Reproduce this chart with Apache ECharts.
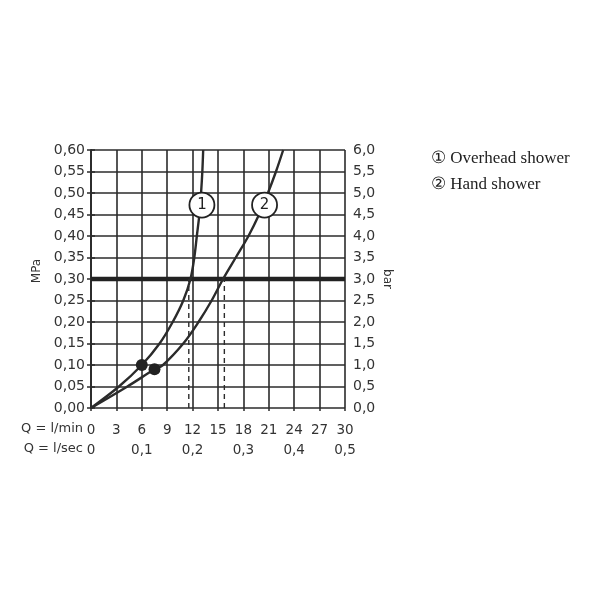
<!DOCTYPE html>
<html><head><meta charset="utf-8">
<script src="https://cdn.jsdelivr.net/npm/echarts@6/dist/echarts.min.js"></script>
<style>html,body{margin:0;padding:0;background:#fff}#c{width:600px;height:600px}</style>
</head><body><div id="c"></div>
<script>
// Data (x in l/min, y in MPa)
const overheadShower = [[0,0],[3.3,0.05],[6,0.10],[8.1,0.15],[9.65,0.20],[10.9,0.25],[11.75,0.30],[12.2,0.35],[12.5,0.40],[12.8,0.45],[13.0,0.50],[13.15,0.55],[13.25,0.60]];
const handShower = [[0,0],[4.3,0.05],[7.5,0.09],[8.5,0.10],[10.9,0.15],[12.7,0.20],[14.25,0.25],[15.6,0.30],[17.1,0.35],[18.6,0.40],[19.85,0.45],[20.9,0.50],[21.85,0.55],[22.7,0.60]];
const dots = [[6,0.10],[7.5,0.09]];
const curveTags = [[13.1,0.472,'1'],[20.5,0.472,'2']];
const refPressure = 0.30;
const flowAtRef = [11.55,15.75];
const legendNames = ['\u2460 Overhead shower','\u2461 Hand shower'];
const xRowNames = ['Q = l/min','Q = l/sec'];

const dark = '#2b2b2b';
const font = 'DejaVu Sans';

const chart = echarts.init(document.getElementById('c'));
const dashedData = [];
flowAtRef.forEach(x=>{dashedData.push([x,0],[x,refPressure],[null,null]);});

chart.setOption({
  animation:false,
  backgroundColor:'#fff',
  grid:{left:91,right:255,top:150,bottom:192},
  legend:{show:true,orient:'vertical',left:421,top:145,icon:'none',itemGap:9,itemWidth:0,
    textStyle:{fontFamily:'Liberation Serif',fontSize:17,color:'#222'},
    data:legendNames, selectedMode:false},
  graphic:[
    {type:'text',right:600-83,top:422,style:{text:xRowNames[0],font:'13px "DejaVu Sans"',fill:'#333',textAlign:'right'}},
    {type:'text',right:600-83,top:442,style:{text:xRowNames[1],font:'13px "DejaVu Sans"',fill:'#333',textAlign:'right'}}
  ],
  xAxis:[{
    type:'value',min:0,max:30,interval:3,position:'bottom',
    axisLine:{show:false},
    axisTick:{show:true,length:3,lineStyle:{color:dark,width:1.5}},
    splitLine:{show:true,lineStyle:{color:dark,width:1.6}},
    axisLabel:{margin:15,fontFamily:font,fontSize:13.5,color:'#333',formatter:v=>String(v)}
  },{
    type:'value',min:0,max:0.5,interval:0.1,position:'bottom',offset:20,
    axisLine:{show:false},axisTick:{show:false},splitLine:{show:false},
    axisLabel:{margin:15,fontFamily:font,fontSize:13.5,color:'#333',formatter:v=>v===0?'0':v.toFixed(1).replace('.',',')}
  }],
  yAxis:[{
    type:'value',min:0,max:0.6,interval:0.05,position:'left',
    axisLine:{show:true,lineStyle:{color:dark,width:1.6}},
    axisTick:{show:true,length:4,lineStyle:{color:dark,width:1.5}},
    splitLine:{show:true,lineStyle:{color:dark,width:1.6}},
    axisLabel:{margin:6,fontFamily:font,fontSize:14,color:'#333',formatter:v=>v.toFixed(2).replace('.',',')},
    name:'MPa',nameLocation:'middle',nameGap:48,nameRotate:90,
    nameTextStyle:{fontFamily:font,fontSize:12,color:'#333',padding:[0,0,0,16]}
  },{
    type:'value',min:0,max:6,interval:0.5,position:'right',
    axisLine:{show:true,lineStyle:{color:dark,width:1.6}},
    axisTick:{show:true,length:4,lineStyle:{color:dark,width:1.5}},
    splitLine:{show:false},
    axisLabel:{margin:8,fontFamily:font,fontSize:14,color:'#333',formatter:v=>v.toFixed(1).replace('.',',')},
    name:'bar',nameLocation:'middle',nameGap:36,nameRotate:-90,
    nameTextStyle:{fontFamily:font,fontSize:12,color:'#333'}
  }],
  series:[
    {type:'line',name:'refline',data:[[0,refPressure],[30,refPressure]],symbol:'none',
      lineStyle:{color:'#222',width:4.5},z:3},
    {type:'line',name:'dashed',data:dashedData,symbol:'none',connectNulls:false,
      lineStyle:{color:dark,width:1.4,type:[5,4]},z:3},
    {type:'line',name:legendNames[0],data:overheadShower,smooth:0.35,symbol:'none',
      lineStyle:{color:dark,width:2.4},z:4},
    {type:'line',name:legendNames[1],data:handShower,smooth:0.35,symbol:'none',
      lineStyle:{color:dark,width:2.4},z:4},
    {type:'scatter',name:'dots',data:dots,symbol:'circle',symbolSize:12,
      itemStyle:{color:'#222',opacity:1},z:5},
    {type:'scatter',name:'tags',data:curveTags,symbol:'circle',symbolSize:25,
      itemStyle:{color:'#fff',borderColor:'#222',borderWidth:1.8,opacity:1},
      label:{show:true,position:'inside',formatter:p=>p.data[2],fontFamily:font,fontSize:15,color:'#222'},z:6}
  ]
});
</script></body></html>
